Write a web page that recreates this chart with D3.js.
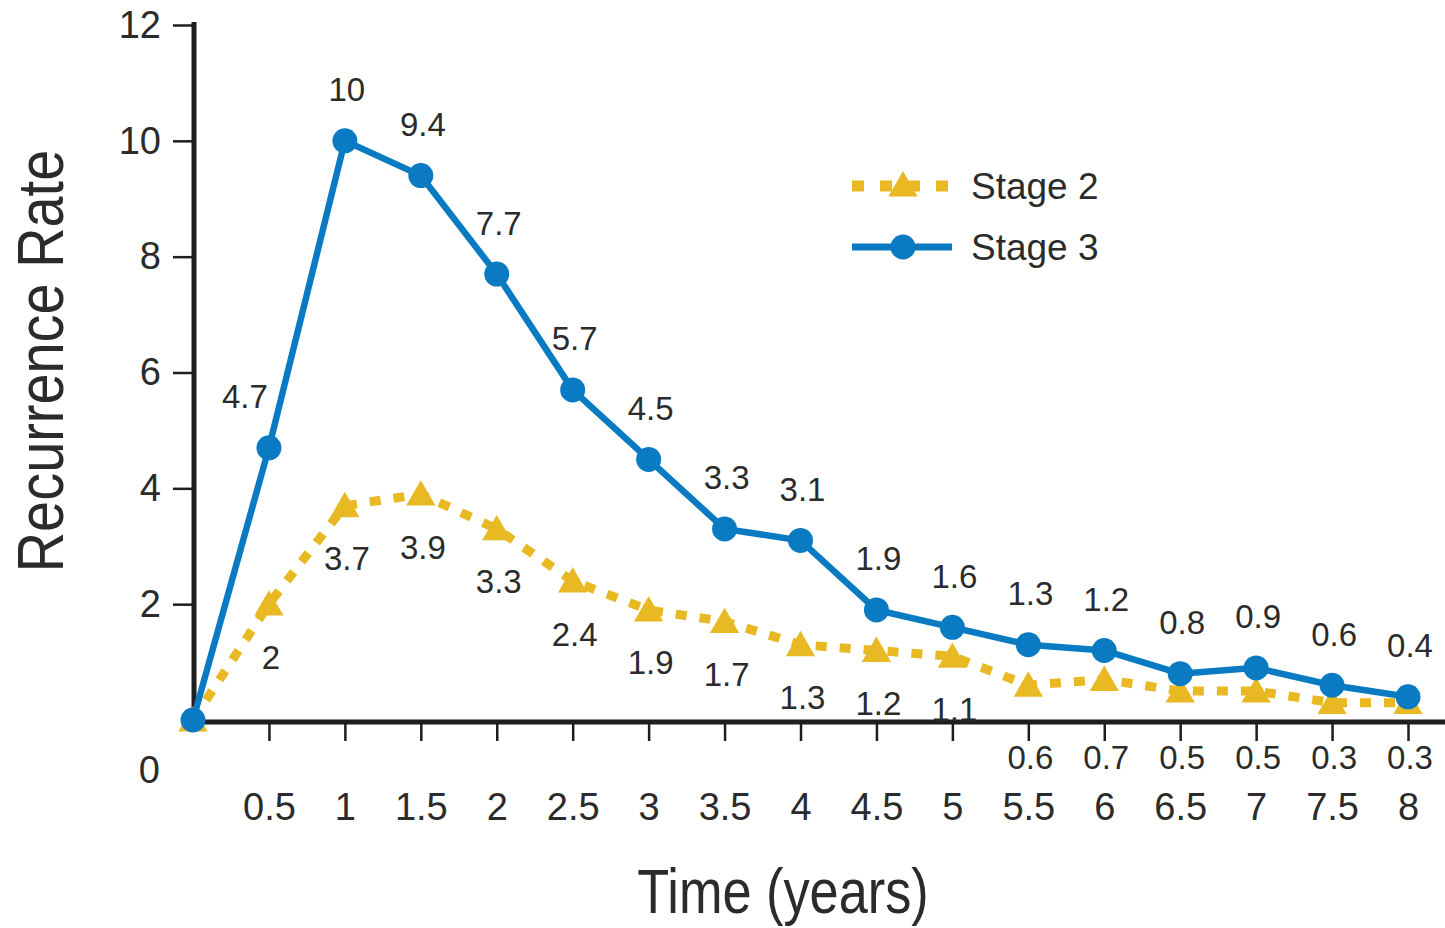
<!DOCTYPE html>
<html><head><meta charset="utf-8">
<script src="https://cdn.jsdelivr.net/npm/d3@7"></script>
<style>
html,body{margin:0;padding:0;background:#fff;}
svg{display:block;}
text{font-family:"Liberation Sans",Arial,Helvetica,sans-serif;fill:#2b2b2b;}
</style></head>
<body>
<script>
const years = [0,0.5,1,1.5,2,2.5,3,3.5,4,4.5,5,5.5,6,6.5,7,7.5,8];
const xTickLabels = ["0.5","1","1.5","2","2.5","3","3.5","4","4.5","5","5.5","6","6.5","7","7.5","8"];
const yTickValues = [2,4,6,8,10,12];
const stage2 = [0,2,3.7,3.9,3.3,2.4,1.9,1.7,1.3,1.2,1.1,0.6,0.7,0.5,0.5,0.3,0.3];
const stage3 = [0,4.7,10,9.4,7.7,5.7,4.5,3.3,3.1,1.9,1.6,1.3,1.2,0.8,0.9,0.6,0.4];
const seriesNames = ["Stage 2","Stage 3"];

const W=1445,H=928;
const blue="#0a7bc2", yellow="#e8b923", ink="#1e1e1e";
const svg=d3.select("body").append("svg").attr("width",W).attr("height",H);
const x=d3.scaleLinear().domain([0,8]).range([193,1408]);
const y=d3.scaleLinear().domain([0,12]).range([720,25]);
const axisY=722;

// y axis
const yAxis=d3.axisLeft(y).tickValues(yTickValues).tickSize(21).tickPadding(12).tickFormat(d3.format("d"));
const gy=svg.append("g").attr("transform","translate(194,0)").call(yAxis);
gy.select(".domain").remove();
gy.selectAll(".tick line").attr("stroke",ink).attr("stroke-width",2.5);
gy.selectAll(".tick text").attr("font-size",38).attr("fill","#2b2b2b").attr("font-family","Liberation Sans, Arial, sans-serif");
svg.append("line").attr("x1",194).attr("x2",194).attr("y1",y(12)-3).attr("y2",axisY+2).attr("stroke",ink).attr("stroke-width",5);
svg.append("text").attr("x",160).attr("y",770).attr("text-anchor","end").attr("dominant-baseline","central").attr("font-size",38).text("0");

// x axis
const xAxis=d3.axisBottom(x).tickValues(years.slice(1)).tickSize(19).tickPadding(52).tickFormat((d,i)=>xTickLabels[i]);
const gx=svg.append("g").attr("transform",`translate(0,${axisY})`).call(xAxis);
gx.select(".domain").remove();
gx.selectAll(".tick line").attr("stroke",ink).attr("stroke-width",2.5);
gx.selectAll(".tick text").attr("font-size",38).attr("fill","#2b2b2b").attr("font-family","Liberation Sans, Arial, sans-serif");
svg.append("line").attr("x1",191).attr("x2",W).attr("y1",axisY).attr("y2",axisY).attr("stroke",ink).attr("stroke-width",5);

// axis titles (condensed look via horizontal scaling)
svg.append("text").attr("transform","translate(783,913) scale(0.83,1)").attr("text-anchor","middle").attr("font-size",63).text("Time (years)");
svg.append("text").attr("transform","translate(63,361) rotate(-90) scale(0.86,1)").attr("text-anchor","middle").attr("font-size",65).text("Recurrence Rate");

const line=d3.line().x((d,i)=>x(years[i])).y(d=>y(d));
const tri=d3.symbol().type(d3.symbolTriangle).size(370);

// stage 2
svg.append("path").datum(stage2).attr("d",line).attr("fill","none").attr("stroke",yellow).attr("stroke-width",9).attr("stroke-dasharray","11 13");
svg.append("g").selectAll("path").data(stage2).join("path").attr("d",tri)
  .attr("transform",(d,i)=>`translate(${x(years[i])},${y(d)+3})`).attr("fill",yellow);
// stage 3
svg.append("path").datum(stage3).attr("d",line).attr("fill","none").attr("stroke",blue).attr("stroke-width",6.5);
svg.append("g").selectAll("circle").data(stage3).join("circle")
  .attr("cx",(d,i)=>x(years[i])).attr("cy",d=>y(d)).attr("r",12.5).attr("fill",blue);

// labels
svg.append("g").selectAll("text").data(stage3.slice(1)).join("text")
  .attr("x",(d,i)=>x(years[i+1])+(i===0?-24:2)).attr("y",d=>y(d)-51)
  .attr("text-anchor","middle").attr("dominant-baseline","central").attr("font-size",33).text(d=>d);
svg.append("g").selectAll("text").data(stage2.slice(1)).join("text")
  .attr("x",(d,i)=>x(years[i+1])+2)
  .attr("y",d=>{const ly=y(d)+53; return ly>715? axisY+35 : ly;})
  .attr("text-anchor","middle").attr("dominant-baseline","central").attr("font-size",33).text(d=>d);

// legend
const lg=svg.append("g");
lg.append("line").attr("x1",852).attr("x2",952).attr("y1",186).attr("y2",186).attr("stroke",yellow).attr("stroke-width",11).attr("stroke-dasharray","12 16");
lg.append("path").attr("d",tri).attr("transform","translate(903,188)").attr("fill",yellow);
lg.append("line").attr("x1",852).attr("x2",952).attr("y1",247).attr("y2",247).attr("stroke",blue).attr("stroke-width",7);
lg.append("circle").attr("cx",903).attr("cy",247).attr("r",12.5).attr("fill",blue);
lg.selectAll("text.lt").data(seriesNames).join("text").attr("class","lt").attr("x",971).attr("y",(d,i)=>186+i*61)
  .attr("dominant-baseline","central").attr("font-size",37).text(d=>d);
</script>
</body></html>
